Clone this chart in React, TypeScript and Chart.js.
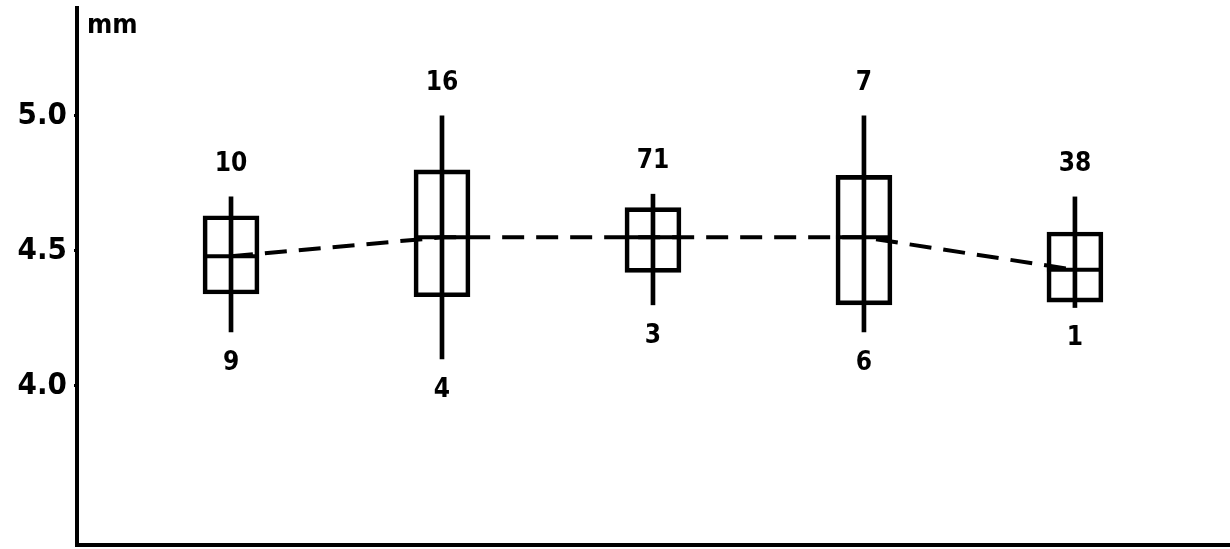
import React, { useEffect, useRef } from "react";
import { Chart, registerables } from "chart.js";

Chart.register(...registerables);

// Group positions along the horizontal axis
const groups = [1, 2, 3, 4, 5];
// Mean thickness (mm) per group
const means = [4.48, 4.55, 4.55, 4.55, 4.43];
// Box limits (mm)
const boxLow = [4.34, 4.33, 4.42, 4.3, 4.31];
const boxHigh = [4.63, 4.8, 4.66, 4.78, 4.57];
// Range limits (mm)
const rangeLow = [4.2, 4.1, 4.3, 4.2, 4.29];
const rangeHigh = [4.7, 5.0, 4.71, 5.0, 4.7];
// Counts written above and below each range line
const countsAbove = ["10", "16", "71", "7", "38"];
const countsBelow = ["9", "4", "3", "6", "1"];
// Y axis tick values
const yTicks = [4.0, 4.5, 5.0];
const unitLabel = "mm";

const INK = "#000";
const HAND_FONT = '"DejaVu Sans Condensed", "DejaVu Sans", sans-serif';

const countsPlugin = {
  id: "counts",
  afterDatasetsDraw(chart: any) {
    const { ctx, scales, chartArea } = chart;
    const x = scales.x;
    const y = scales.y;
    ctx.save();
    ctx.fillStyle = INK;
    ctx.textAlign = "center";
    ctx.textBaseline = "middle";
    ctx.font = `bold 26px ${HAND_FONT}`;
    groups.forEach((g, i) => {
      const px = x.getPixelForValue(g);
      ctx.fillText(countsAbove[i], px, y.getPixelForValue(rangeHigh[i]) - 33);
      ctx.fillText(countsBelow[i], px, y.getPixelForValue(rangeLow[i]) + 31);
    });
    ctx.textAlign = "left";
    ctx.font = `bold 27px ${HAND_FONT}`;
    ctx.fillText(unitLabel, chartArea.left + 10, 26);
    ctx.restore();
  },
};

export default function App() {
  const canvasRef = useRef<HTMLCanvasElement | null>(null);

  useEffect(() => {
    if (!canvasRef.current) return;
    const chart = new Chart(canvasRef.current, {
      type: "bar",
      data: {
        datasets: [
          {
            type: "line",
            data: groups.map((g, i) => ({ x: g, y: means[i] })),
            borderColor: INK,
            borderWidth: 4,
            borderDash: [22, 12],
            pointRadius: 0,
            fill: false,
            order: 3,
          } as any,
          {
            type: "bar",
            data: groups.map((g, i) => ({ x: g, y: [rangeLow[i], rangeHigh[i]] })),
            backgroundColor: INK,
            borderWidth: 0,
            barThickness: 4,
            grouped: false,
            order: 2,
          } as any,
          {
            type: "bar",
            data: groups.map((g, i) => ({ x: g, y: [boxLow[i], boxHigh[i]] })),
            backgroundColor: "rgba(0,0,0,0)",
            borderColor: INK,
            borderWidth: 4,
            borderSkipped: false,
            barThickness: 56,
            grouped: false,
            order: 1,
          } as any,
          {
            type: "scatter",
            data: groups.map((g, i) => ({ x: g, y: means[i] })),
            pointStyle: "line",
            pointRadius: 28,
            pointHoverRadius: 28,
            borderColor: INK,
            borderWidth: 4,
            showLine: false,
            order: 0,
          } as any,
        ],
      },
      options: {
        responsive: false,
        animation: false,
        events: [],
        layout: { autoPadding: false, padding: { top: 8, right: 0, bottom: 0, left: 0 } },
        plugins: {
          legend: { display: false },
          tooltip: { enabled: false },
        },
        scales: {
          x: {
            type: "linear",
            min: 0.27,
            max: 5.735,
            offset: false,
            grid: { display: false },
            ticks: { display: false },
            border: { display: true, color: INK, width: 4 },
            afterFit(scale: any) {
              scale.height = 4;
              scale.paddingLeft = 0;
              scale.paddingRight = 0;
            },
          },
          y: {
            type: "linear",
            min: 3.41,
            max: 5.4,
            beginAtZero: false,
            grid: {
              display: true,
              drawOnChartArea: false,
              drawTicks: true,
              tickLength: 3,
              lineWidth: 3,
              color: INK,
            },
            border: { display: true, color: INK, width: 4 },
            ticks: {
              color: INK,
              padding: 7,
              font: { family: HAND_FONT, size: 31, weight: "bold" },
              callback: (v: any) => Number(v).toFixed(1),
            },
            afterBuildTicks(scale: any) {
              scale.ticks = yTicks.map((v) => ({ value: v }));
            },
            afterFit(scale: any) {
              scale.width = 77;
              scale.paddingTop = 0;
              scale.paddingBottom = 0;
            },
          },
        },
      } as any,
      plugins: [countsPlugin],
    });
    return () => chart.destroy();
  }, []);

  return (
    <div
      style={{
        position: "fixed",
        left: 0,
        top: 0,
        width: 1230,
        height: 549,
        background: "#fff",
      }}
    >
      <canvas ref={canvasRef} width={1230} height={549} style={{ display: "block" }} />
    </div>
  );
}
